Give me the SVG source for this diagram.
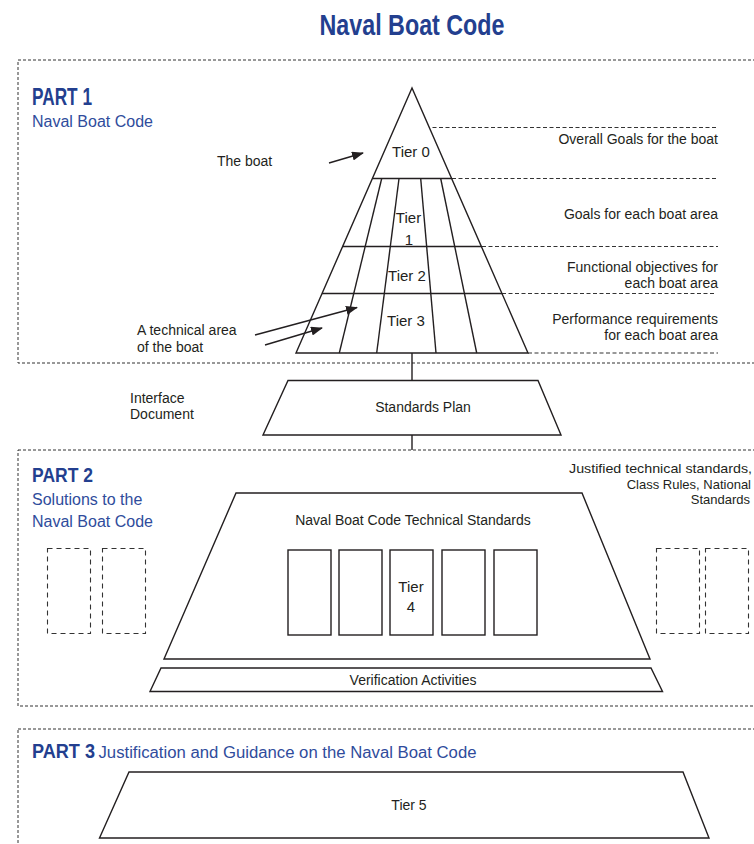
<svg xmlns="http://www.w3.org/2000/svg" width="754" height="844" viewBox="0 0 754 844">
<style>
.t{font-family:"Liberation Sans",Arial,sans-serif;font-size:14px;fill:#231f20}
.tr{text-anchor:end}
.tm{text-anchor:middle}
.tier{font-size:15px}
.note{font-size:13px}
.h{font-family:"Liberation Sans",Arial,sans-serif;font-weight:bold;fill:#233f8f}
.sub{font-family:"Liberation Sans",Arial,sans-serif;font-size:16px;fill:#2f4c9c}
.box{fill:none;stroke:#333;stroke-width:1;stroke-dasharray:3 2}
.guide{fill:none;stroke:#333;stroke-width:1;stroke-dasharray:4 2.5}
.sm{fill:none;stroke:#333;stroke-width:1.1;stroke-dasharray:5 4}
.s{fill:#fff;stroke:#231f20;stroke-width:1.4}
.ln{stroke:#231f20;stroke-width:1.4;fill:none}
</style>
<defs>
<marker id="ah" markerUnits="userSpaceOnUse" markerWidth="12" markerHeight="9" refX="11" refY="4.5" orient="auto">
<path d="M0,0 L12,4.5 L0,9 z" fill="#231f20"/>
</marker>
</defs>

<text class="h" x="412" y="35" font-size="30" text-anchor="middle" textLength="185" lengthAdjust="spacingAndGlyphs">Naval Boat Code</text>

<g id="part1">
<rect class="box" x="18" y="60" width="752" height="303"/>
<text class="h" x="32" y="105" font-size="23" textLength="60" lengthAdjust="spacingAndGlyphs">PART 1</text>
<text class="sub" x="32" y="127">Naval Boat Code</text>
</g>

<g id="guides">
<line class="guide" x1="413" y1="127.5" x2="718" y2="127.5"/>
<line class="guide" x1="452" y1="178.5" x2="718" y2="178.5"/>
<line class="guide" x1="482" y1="246.5" x2="718" y2="246.5"/>
<line class="guide" x1="502" y1="293.5" x2="716" y2="293.5"/>
<line class="guide" x1="528" y1="353" x2="718" y2="353"/>
</g>

<g id="pyramid">
<polygon class="s" points="412,88 296,353 528,353"/>
<line class="ln" x1="372.5" y1="178.5" x2="451.5" y2="178.5"/>
<line class="ln" x1="342.5" y1="246.5" x2="481.5" y2="246.5"/>
<line class="ln" x1="322" y1="293.5" x2="502" y2="293.5"/>
<line class="ln" x1="381.7" y1="178.5" x2="339.3" y2="353"/>
<line class="ln" x1="399" y1="178.5" x2="376.7" y2="353"/>
<line class="ln" x1="420.7" y1="178.5" x2="436" y2="353"/>
<line class="ln" x1="440.7" y1="178.5" x2="476.7" y2="353"/>
<text class="t tier tm" x="411" y="157">Tier 0</text>
<text class="t tier tm" x="408.5" y="222.5">Tier</text>
<text class="t tier tm" x="409" y="245">1</text>
<text class="t tier tm" x="407" y="281">Tier 2</text>
<text class="t tier tm" x="406" y="326">Tier 3</text>
</g>

<g id="tier-notes">
<text class="t tr" x="718" y="143.5">Overall Goals for the boat</text>
<text class="t tr" x="718" y="218.5">Goals for each boat area</text>
<text class="t tr" x="718" y="272">Functional objectives for</text>
<text class="t tr" x="718" y="288">each boat area</text>
<text class="t tr" x="718" y="323.5">Performance requirements</text>
<text class="t tr" x="718" y="339.5">for each boat area</text>
</g>

<g id="labels">
<text class="t" x="217" y="166">The boat</text>
<text class="t" x="137" y="335">A technical area</text>
<text class="t" x="137" y="352">of the boat</text>
<text class="t" x="130" y="403">Interface</text>
<text class="t" x="130" y="419">Document</text>
</g>

<g id="standards-plan">
<polygon class="s" points="288,380.5 538,380.5 561,435 263,435"/>
<text class="t tm" x="423" y="412">Standards Plan</text>
</g>

<g id="part2">
<rect class="box" x="18" y="450" width="752" height="256"/>
<text class="h" x="32" y="482" font-size="21" textLength="61" lengthAdjust="spacingAndGlyphs">PART 2</text>
<text class="sub" x="32" y="505">Solutions to the</text>
<text class="sub" x="32" y="527">Naval Boat Code</text>
<text class="t note tr" x="752" y="473" textLength="183" lengthAdjust="spacingAndGlyphs">Justified technical standards,</text>
<text class="t note tr" x="751" y="488.5">Class Rules, National</text>
<text class="t note tr" x="750" y="504">Standards</text>
</g>

<g id="side-boxes">
<rect class="sm" x="47.5" y="548.5" width="43" height="85"/>
<rect class="sm" x="102.5" y="548.5" width="43" height="85"/>
<rect class="sm" x="656.5" y="548.5" width="43" height="85"/>
<rect class="sm" x="705.5" y="548.5" width="43" height="85"/>
</g>

<g id="technical-standards">
<polygon class="s" points="236,493 582,493 650,659 164,659"/>
<text class="t tm" x="413" y="525">Naval Boat Code Technical Standards</text>
<rect class="s" x="288" y="550" width="43" height="85"/>
<rect class="s" x="339" y="550" width="43" height="85"/>
<rect class="s" x="390" y="550" width="43" height="85"/>
<rect class="s" x="442" y="550" width="43" height="85"/>
<rect class="s" x="494" y="550" width="43" height="85"/>
<text class="t tier tm" x="411" y="592">Tier</text>
<text class="t tier tm" x="411" y="612">4</text>
</g>

<g id="verification">
<polygon class="s" points="161,668 651,668 662.5,691.5 150,691.5"/>
<text class="t tm" x="413" y="685">Verification Activities</text>
</g>

<g id="part3">
<rect class="box" x="18" y="729" width="752" height="140"/>
<text class="h" x="32" y="758" font-size="21" textLength="63" lengthAdjust="spacingAndGlyphs">PART 3</text>
<text class="sub" x="98.5" y="758" textLength="378" lengthAdjust="spacingAndGlyphs">Justification and Guidance on the Naval Boat Code</text>
</g>

<g id="tier5">
<polygon class="s" points="129,772 683,772 709,838 99.5,838"/>
<text class="t tm" x="409" y="810">Tier 5</text>
</g>

<g id="connectors">
<line class="ln" x1="412" y1="353" x2="412" y2="380.5"/>
<line class="ln" x1="412" y1="435" x2="412" y2="450"/>
<line class="ln" x1="329" y1="163" x2="363" y2="153" marker-end="url(#ah)"/>
<line class="ln" x1="255" y1="335" x2="357" y2="307.5" marker-end="url(#ah)"/>
<line class="ln" x1="265" y1="345" x2="322" y2="328" marker-end="url(#ah)"/>
</g>
</svg>
